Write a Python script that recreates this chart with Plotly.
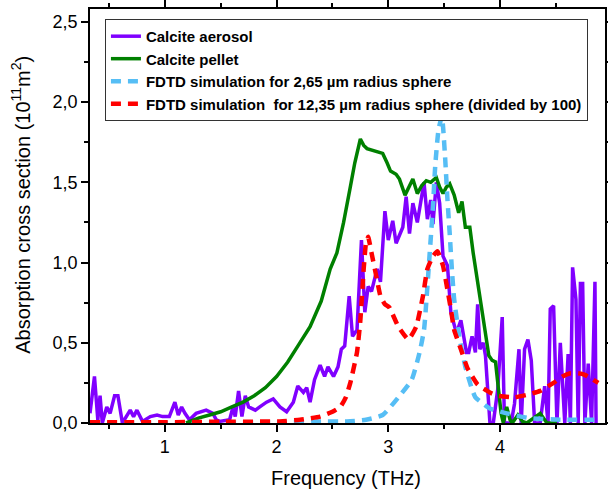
import plotly.graph_objects as go

# ---- data ----
aerosol_x = [0.33,0.37,0.40,0.42,0.44,0.48,0.51,0.55,0.58,0.62,0.69,0.72,0.75,0.80,0.87,0.93,0.98,1.04,1.09,1.12,
             1.15,1.18,1.22,1.28,1.37,1.43,1.46,1.49,1.58,1.61,1.63,1.66,1.69,1.72,1.75,1.81,1.85,1.91,1.97,2.03,
             2.09,2.15,2.19,2.24,2.27,2.30,2.34,2.39,2.43,2.46,2.51,2.55,2.58,2.61,2.65,2.68,2.72,2.76,2.79,2.82,
             2.85,2.90,2.93,2.97,3.00,3.04,3.07,3.13,3.16,3.19,3.22,3.26,3.32,3.35,3.38,3.40,3.43,3.46,3.49,3.53,
             3.56,3.61,3.65,3.70,3.72,3.75,3.78,3.80,3.82,3.85,3.87,3.91,3.94,3.98,4.02,4.04,4.10,4.13,4.17,4.19,
             4.22,4.25,4.28,4.31,4.36,4.40,4.43,4.45,4.48,4.51,4.54,4.58,4.61,4.63,4.65,4.68,4.70,4.72,4.74,4.76,
             4.79,4.82,4.85,4.86]
aerosol_y = [0.06,0.29,0.02,0.17,0.00,0.10,0.06,0.17,0.17,0.00,0.08,0.04,0.08,0.01,0.04,0.05,0.04,0.04,0.13,0.05,
             0.10,0.06,0.02,0.06,0.08,0.06,0.02,0.01,0.02,0.10,0.04,0.20,0.04,0.17,0.10,0.08,0.10,0.13,0.15,0.10,
             0.07,0.13,0.23,0.19,0.22,0.13,0.27,0.36,0.29,0.35,0.29,0.35,0.46,0.48,0.79,0.54,0.58,1.14,0.69,0.85,
             0.82,0.96,0.88,1.32,1.14,1.26,1.12,1.22,1.41,1.18,1.37,1.25,1.50,1.27,1.39,1.24,1.50,1.37,1.04,0.98,
             0.69,0.56,0.64,0.44,0.44,0.54,0.44,0.74,0.46,0.50,0.42,0.00,0.00,0.21,0.66,0.00,0.00,0.12,0.46,0.00,
             0.46,0.52,0.39,0.00,0.00,0.23,0.00,0.71,0.73,0.00,0.50,0.00,0.43,0.00,0.97,0.77,0.00,0.87,0.87,0.00,
             0.37,0.00,0.88,0.00]

pellet_x = [1.19,1.30,1.40,1.50,1.60,1.70,1.80,1.90,2.00,2.10,2.20,2.30,2.40,2.48,2.54,2.60,2.66,2.70,2.75,2.78,
            2.81,2.86,2.90,2.95,2.99,3.02,3.07,3.10,3.15,3.19,3.22,3.26,3.30,3.34,3.38,3.43,3.46,3.49,3.52,3.55,
            3.59,3.63,3.66,3.69,3.73,3.76,3.80,3.85,3.90,3.93,3.96,4.01,4.03,4.06,4.09,4.11,4.16,4.20,4.24,4.30,
            4.36,4.42,4.51]
pellet_y = [0.00,0.03,0.05,0.07,0.10,0.13,0.17,0.22,0.29,0.38,0.49,0.60,0.76,0.96,1.06,1.25,1.47,1.62,1.77,1.73,
            1.71,1.70,1.69,1.68,1.62,1.57,1.55,1.52,1.42,1.48,1.52,1.43,1.48,1.51,1.50,1.53,1.47,1.43,1.47,1.49,
            1.42,1.31,1.38,1.22,1.22,1.06,0.89,0.65,0.42,0.39,0.38,0.06,0.00,0.10,0.02,0.00,0.05,0.01,0.00,0.03,
            0.06,0.00,0.00]

sim265_x = [0.33,1.00,2.00,2.40,2.63,2.80,2.95,3.09,3.21,3.28,3.32,3.34,3.37,3.40,3.42,3.45,3.48,3.49,3.51,3.53,
            3.55,3.57,3.59,3.64,3.69,3.75,3.78,3.85,3.91,4.06,4.27,4.57,4.86]
sim265_y = [0.00,0.00,0.005,0.01,0.01,0.02,0.05,0.16,0.27,0.44,0.58,0.75,1.05,1.35,1.60,1.83,1.91,1.85,1.64,1.39,
            1.18,0.95,0.77,0.52,0.35,0.21,0.16,0.12,0.09,0.06,0.03,0.02,0.02]

sim1235_x = [0.33,1.00,1.50,2.03,2.21,2.39,2.50,2.57,2.62,2.66,2.72,2.75,2.78,2.80,2.82,2.85,2.90,2.93,2.97,3.01,
             3.09,3.18,3.25,3.31,3.35,3.40,3.44,3.49,3.53,3.56,3.59,3.65,3.71,3.80,3.91,3.98,4.13,4.27,4.36,4.48,
             4.56,4.63,4.70,4.76,4.81,4.88]
sim1235_y = [0.005,0.005,0.008,0.01,0.02,0.04,0.07,0.10,0.16,0.25,0.44,0.64,0.96,1.12,1.16,1.06,0.89,0.79,0.74,0.72,
             0.60,0.52,0.60,0.79,0.96,1.04,1.07,0.98,0.83,0.71,0.58,0.46,0.34,0.24,0.19,0.17,0.16,0.18,0.20,0.25,
             0.29,0.31,0.31,0.30,0.28,0.25]

names = ["Calcite aerosol", "Calcite pellet",
         "FDTD simulation for 2,65 \u00b5m radius sphere",
         "FDTD simulation  for 12,35 \u00b5m radius sphere (divided by 100)"]

x_title = "Frequency (THz)"
y_title = "Absorption cross section (10<sup>11</sup>m<sup>2</sup>)"

x_tickvals = [1, 2, 3, 4]
x_ticktext = ["1", "2", "3", "4"]
y_tickvals = [0.0, 0.5, 1.0, 1.5, 2.0, 2.5]
y_ticktext = ["0,0", "0,5", "1,0", "1,5", "2,0", "2,5"]

FONT = "Liberation Sans, Arial, sans-serif"

fig = go.Figure()
fig.add_trace(go.Scatter(x=aerosol_x, y=aerosol_y, mode="lines", name=names[0],
                         line=dict(color="#8000FF", width=3.5)))
fig.add_trace(go.Scatter(x=pellet_x, y=pellet_y, mode="lines", name=names[1],
                         line=dict(color="#008000", width=3.5)))
fig.add_trace(go.Scatter(x=sim265_x, y=sim265_y, mode="lines", name=names[2],
                         line=dict(color="#56BEF5", width=4.5, dash="10px,7px", shape="spline", smoothing=0.5)))
fig.add_trace(go.Scatter(x=sim1235_x, y=sim1235_y, mode="lines", name=names[3],
                         line=dict(color="#FF0000", width=4.5, dash="10px,7px", shape="spline", smoothing=0.4)))

axis_common = dict(showline=True, linecolor="black", linewidth=1.5, mirror="ticks",
                   ticks="outside", tickcolor="black", tickwidth=1.5, ticklen=7,
                   showgrid=False, zeroline=False, automargin=False,
                   tickfont=dict(family=FONT, size=18, color="black"))

fig.update_xaxes(range=[0.33, 4.94], tickvals=x_tickvals, ticktext=x_ticktext,
                 minor=dict(ticks="outside", dtick=0.5, tick0=0.5, ticklen=4, tickcolor="black", tickwidth=1.5),
                 **axis_common)
fig.update_yaxes(range=[0, 2.58], tickvals=y_tickvals, ticktext=y_ticktext,
                 minor=dict(ticks="outside", dtick=0.25, tick0=0.25, ticklen=4, tickcolor="black", tickwidth=1.5),
                 **axis_common)

fig.add_annotation(text=x_title, xref="paper", yref="paper", x=0.498, y=-0.133,
                   xanchor="center", yanchor="middle", showarrow=False,
                   font=dict(family=FONT, size=20, color="black"))
fig.add_annotation(text=y_title, xref="paper", yref="paper", x=-0.134, y=0.527,
                   xanchor="center", yanchor="middle", showarrow=False, textangle=-90,
                   font=dict(family=FONT, size=20, color="black"))

fig.update_layout(
    width=608, height=489,
    margin=dict(l=90, r=3, t=9, b=66),
    plot_bgcolor="white", paper_bgcolor="white",
    font=dict(family=FONT, color="black"),
    legend=dict(x=0.029, y=0.976, xanchor="left", yanchor="top",
                bordercolor="#333333", borderwidth=1, bgcolor="white",
                font=dict(family=FONT, size=15, color="black", weight="bold"),
                tracegroupgap=0, itemwidth=30),
    showlegend=True,
)

fig.write_html("out.html", config={"displayModeBar": False},
               post_script="document.body.style.margin='0';document.body.style.padding='0';")
